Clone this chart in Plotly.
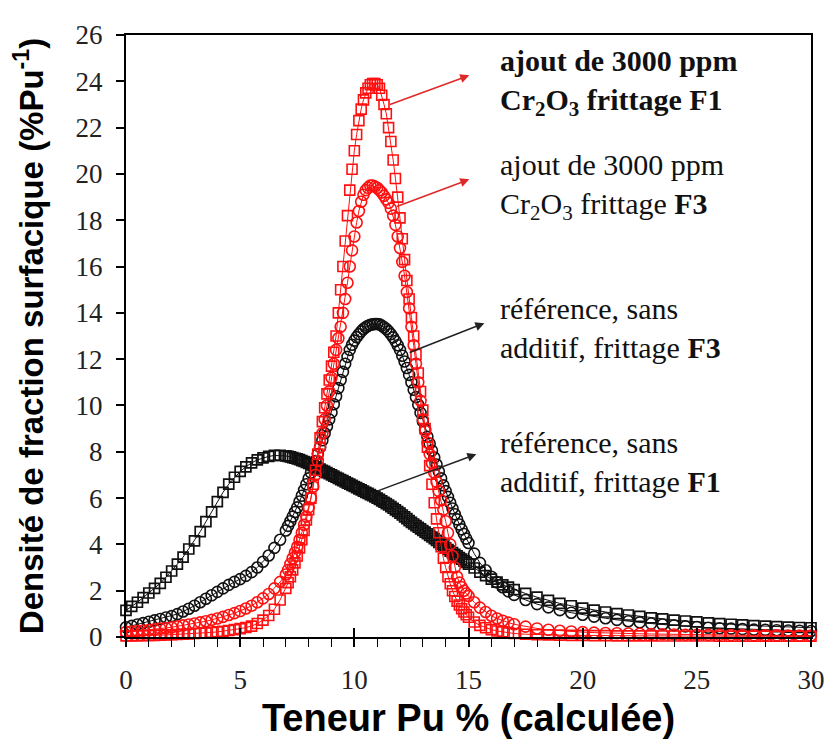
import plotly.graph_objects as go

# Teneur Pu (%) - shared abscissa of the four curves
x_pu = [0, 0.25, 0.5, 0.75, 1, 1.25, 1.5, 1.75, 2, 2.25, 2.5, 2.75, 3, 3.25,
        3.5, 3.75, 4, 4.25, 4.5, 4.75, 5, 5.25, 5.5, 5.75, 6, 6.25, 6.5, 6.75,
        7.0, 7.1, 7.2, 7.3, 7.4, 7.5, 7.6, 7.7, 7.8, 7.9,
        8.0, 8.1, 8.2, 8.3, 8.4, 8.5, 8.6, 8.7, 8.8, 8.9,
        9.0, 9.1, 9.2, 9.3, 9.4, 9.5, 9.6, 9.7, 9.8, 9.9,
        10.0, 10.1, 10.2, 10.3, 10.4, 10.5, 10.6, 10.7, 10.8, 10.9,
        11.0, 11.1, 11.2, 11.3, 11.4, 11.5, 11.6, 11.7, 11.8, 11.9,
        12.0, 12.1, 12.2, 12.3, 12.4, 12.5, 12.6, 12.7, 12.8, 12.9,
        13.0, 13.1, 13.2, 13.3, 13.4, 13.5, 13.6, 13.7, 13.8, 13.9,
        14.0, 14.1, 14.2, 14.3, 14.4, 14.5, 14.6, 14.7, 14.8, 14.9,
        15.0,
        15.25, 15.5, 15.75, 16, 16.25, 16.5, 16.75, 17,
        17.5, 18, 18.5, 19, 19.5, 20, 20.5, 21, 21.5, 22, 22.5, 23, 23.5,
        24, 24.5, 25, 25.5, 26, 26.5, 27, 27.5, 28, 28.5, 29, 29.5, 30]

# ajout de 3000 ppm Cr2O3, frittage F1 (carres rouges)
dens_cr_f1 = [0.05, 0.05, 0.06, 0.06, 0.07, 0.07, 0.08, 0.09, 0.10, 0.11, 0.12, 0.13, 0.15, 0.16,
              0.18, 0.20, 0.22, 0.25, 0.28, 0.32, 0.36, 0.41, 0.47, 0.58, 0.73, 0.93, 1.20, 1.60,
              2.10, 2.35, 2.60, 2.90, 3.20, 3.50, 3.85, 4.20, 4.60, 5.05,
              5.50, 6.00, 6.60, 7.20, 7.90, 8.60, 9.30, 9.90, 10.50, 11.10,
              11.70, 12.30, 13.00, 14.00, 15.00, 16.00, 17.10, 18.20, 19.30, 20.20,
              21.00, 21.70, 22.30, 22.80, 23.20, 23.50, 23.70, 23.85, 23.90, 23.90,
              23.85, 23.70, 23.40, 23.00, 22.60, 22.00, 21.40, 20.60, 19.80, 19.00,
              18.10, 17.20, 16.30, 15.40, 14.60, 13.80, 13.00, 12.20, 11.40, 10.60,
              9.80, 9.00, 8.20, 7.40, 6.60, 5.80, 5.10, 4.50, 3.90, 3.40,
              3.00, 2.60, 2.30, 2.00, 1.75, 1.55, 1.38, 1.22, 1.08, 0.96,
              0.85,
              0.65, 0.50, 0.40, 0.32, 0.26, 0.22, 0.18, 0.15,
              0.12, 0.10, 0.09, 0.08, 0.07, 0.07, 0.06, 0.06, 0.05, 0.05, 0.05, 0.05, 0.04,
              0.04, 0.04, 0.04, 0.04, 0.03, 0.03, 0.03, 0.03, 0.03, 0.03, 0.03, 0.03, 0.03]

# ajout de 3000 ppm Cr2O3, frittage F3 (cercles rouges)
dens_cr_f3 = [0.22, 0.24, 0.26, 0.28, 0.30, 0.33, 0.36, 0.39, 0.42, 0.46, 0.50, 0.54, 0.58, 0.63,
              0.68, 0.74, 0.80, 0.87, 0.95, 1.03, 1.12, 1.23, 1.35, 1.50, 1.67, 1.86, 2.10, 2.38,
              2.70, 2.90, 3.15, 3.40, 3.65, 3.90, 4.20, 4.50, 4.85, 5.20,
              5.60, 6.00, 6.50, 7.00, 7.60, 8.20, 8.80, 9.40, 10.00, 10.60,
              11.20, 11.80, 12.40, 12.90, 13.40, 14.00, 14.60, 15.30, 16.00, 16.70,
              17.30, 17.90, 18.40, 18.80, 19.10, 19.30, 19.40, 19.50, 19.50, 19.45,
              19.40, 19.30, 19.20, 19.05, 18.90, 18.75, 18.50, 18.20, 17.80, 17.30,
              16.80, 16.20, 15.60, 14.90, 14.20, 13.40, 12.60, 11.80, 11.00, 10.20,
              9.40, 8.90, 8.40, 7.90, 7.50, 7.10, 6.70, 6.30, 5.90, 5.50,
              5.00, 4.50, 4.00, 3.50, 3.00, 2.60, 2.35, 2.15, 2.00, 1.88,
              1.77,
              1.50, 1.27, 1.08, 0.92, 0.80, 0.70, 0.62, 0.55,
              0.45, 0.37, 0.31, 0.27, 0.24, 0.21, 0.19, 0.17, 0.16, 0.15, 0.14, 0.13, 0.12,
              0.11, 0.10, 0.10, 0.09, 0.09, 0.08, 0.08, 0.07, 0.07, 0.07, 0.06, 0.06, 0.06]

# reference, sans additif, frittage F3 (cercles noirs)
dens_ref_f3 = [0.42, 0.48, 0.54, 0.60, 0.66, 0.72, 0.78, 0.84, 0.90, 0.99, 1.10, 1.22, 1.35, 1.50,
               1.65, 1.80, 1.95, 2.10, 2.25, 2.38, 2.50, 2.64, 2.80, 3.00, 3.25, 3.52, 3.85, 4.20,
               4.60, 4.80, 5.00, 5.20, 5.40, 5.60, 5.85, 6.10, 6.35, 6.60,
               6.85, 7.10, 7.35, 7.60, 7.90, 8.20, 8.50, 8.80, 9.10, 9.40,
               9.70, 10.05, 10.40, 10.75, 11.10, 11.45, 11.80, 12.10, 12.40, 12.62,
               12.80, 12.95, 13.08, 13.20, 13.30, 13.38, 13.44, 13.48, 13.50, 13.52,
               13.52, 13.50, 13.45, 13.38, 13.30, 13.20, 13.08, 12.94, 12.78, 12.60,
               12.40, 12.15, 11.90, 11.62, 11.32, 11.00, 10.68, 10.36, 10.03, 9.68,
               9.32, 8.97, 8.65, 8.35, 8.05, 7.75, 7.45, 7.15, 6.85, 6.55,
               6.30, 6.05, 5.80, 5.55, 5.30, 5.08, 4.86, 4.65, 4.45, 4.25,
               4.06,
               3.60, 3.20, 2.88, 2.60, 2.36, 2.15, 1.97, 1.82,
               1.60, 1.42, 1.28, 1.16, 1.05, 0.96, 0.88, 0.81, 0.74, 0.68, 0.63, 0.58, 0.54,
               0.50, 0.46, 0.43, 0.40, 0.38, 0.36, 0.34, 0.32, 0.31, 0.29, 0.28, 0.27, 0.26]

# reference, sans additif, frittage F1 (carres noirs)
dens_ref_f1 = [1.15, 1.32, 1.50, 1.70, 1.90, 2.10, 2.32, 2.58, 2.85, 3.15, 3.45, 3.80, 4.15, 4.55,
               4.98, 5.40, 5.85, 6.25, 6.60, 6.90, 7.15, 7.35, 7.52, 7.65, 7.74, 7.80, 7.84, 7.84,
               7.82, 7.80, 7.78, 7.75, 7.72, 7.69, 7.66, 7.62, 7.58, 7.54,
               7.50, 7.45, 7.40, 7.35, 7.30, 7.25, 7.20, 7.15, 7.10, 7.05,
               7.00, 6.95, 6.90, 6.85, 6.80, 6.75, 6.70, 6.65, 6.60, 6.55,
               6.50, 6.45, 6.40, 6.35, 6.30, 6.25, 6.20, 6.15, 6.10, 6.05,
               6.00, 5.94, 5.88, 5.82, 5.76, 5.70, 5.63, 5.56, 5.49, 5.42,
               5.35, 5.27, 5.19, 5.11, 5.03, 4.95, 4.88, 4.81, 4.74, 4.67,
               4.60, 4.53, 4.46, 4.39, 4.32, 4.25, 4.17, 4.09, 4.01, 3.93,
               3.85, 3.78, 3.71, 3.64, 3.57, 3.50, 3.43, 3.36, 3.29, 3.22,
               3.15,
               2.98, 2.80, 2.65, 2.50, 2.37, 2.25, 2.15, 2.05,
               1.88, 1.72, 1.58, 1.45, 1.35, 1.25, 1.16, 1.08, 1.01, 0.95, 0.89, 0.83, 0.78,
               0.73, 0.69, 0.65, 0.61, 0.58, 0.55, 0.52, 0.49, 0.47, 0.45, 0.43, 0.41, 0.40]

labels = ['<b>ajout de 3000 ppm<br>Cr<sub>2</sub>O<sub>3</sub> frittage F1</b>',
          'ajout de 3000 ppm<br>Cr<sub>2</sub>O<sub>3</sub> frittage <b>F3</b>',
          'référence, sans<br>additif, frittage <b>F3</b>',
          'référence, sans<br>additif, frittage <b>F1</b>']

RED = '#ff1010'
BLACK = '#111111'

fig = go.Figure()
# noir d'abord, rouge par dessus
fig.add_trace(go.Scatter(x=x_pu, y=dens_ref_f1, mode='lines+markers', cliponaxis=False,
                         line=dict(color=BLACK, width=1),
                         marker=dict(symbol='square-open', size=10, color=BLACK, line=dict(width=1.7))))
fig.add_trace(go.Scatter(x=x_pu, y=dens_ref_f3, mode='lines+markers', cliponaxis=False,
                         line=dict(color=BLACK, width=1),
                         marker=dict(symbol='circle-open', size=11, color=BLACK, line=dict(width=1.6))))
fig.add_trace(go.Scatter(x=x_pu, y=dens_cr_f3, mode='lines+markers', cliponaxis=False,
                         line=dict(color=RED, width=1),
                         marker=dict(symbol='circle-open', size=11, color=RED, line=dict(width=1.6))))
fig.add_trace(go.Scatter(x=x_pu, y=dens_cr_f1, mode='lines+markers', cliponaxis=False,
                         line=dict(color=RED, width=1),
                         marker=dict(symbol='square-open', size=10, color=RED, line=dict(width=1.6))))
# axe fantome pour les graduations interieures
fig.add_trace(go.Scatter(x=[], y=[], xaxis='x2', showlegend=False, hoverinfo='skip'))

# fleches : de la courbe vers le texte
arrows = [(11.56, 23.0, 15.1, 24.28, '#e02828'),
          (11.86, 18.59, 15.1, 19.79, '#e02828'),
          (12.42, 12.29, 15.76, 13.58, '#222222'),
          (11.0, 6.3, 15.41, 7.92, '#222222')]
for x0, y0, x1, y1, c in arrows:
    fig.add_annotation(x=x0, y=y0, ax=x1, ay=y1, xref='x', yref='y', axref='x', ayref='y',
                       text='', showarrow=True, arrowside='start', startarrowhead=2,
                       startarrowsize=1.2, arrowwidth=1.5, arrowcolor=c)

label_y = [23.94, 19.44, 13.36, 7.54]
for txt, ly in zip(labels, label_y):
    fig.add_annotation(x=16.28, y=ly, xref='x', yref='y', text=txt, showarrow=False,
                       xanchor='left', yanchor='middle', align='left',
                       font=dict(family='Liberation Serif', size=30, color='#111111'))

fig.update_layout(
    width=829, height=739,
    margin=dict(l=118, r=18, t=23, b=110),
    plot_bgcolor='white', paper_bgcolor='white',
    showlegend=False,
    xaxis=dict(range=[0, 30], tick0=0, dtick=5, ticks='outside', ticklen=8, tickwidth=1.5,
               tickcolor='black', minor=dict(dtick=1, ticks='outside', ticklen=8,
                                             tickwidth=1.2, tickcolor='black'),
               showline=True, linecolor='black', linewidth=2, mirror=True,
               showgrid=False, zeroline=False, ticklabelstandoff=10,
               tickfont=dict(family='Liberation Serif', size=27, color='#222222'),
               title=dict(text='Teneur Pu % (calculée)', standoff=10,
                          font=dict(family='Liberation Sans', size=38, weight='bold',
                                    color='black'))),
    xaxis2=dict(range=[0, 30], overlaying='x', anchor='y', side='bottom',
                tickvals=[5, 10, 15, 20, 25], ticks='inside', ticklen=9, tickwidth=1.5,
                tickcolor='black', showticklabels=False, showline=False,
                showgrid=False, zeroline=False),
    yaxis=dict(range=[0, 26], tick0=0, dtick=2, ticks='outside', ticklen=8, tickwidth=1.5,
               tickcolor='black', showline=True, linecolor='black', linewidth=2, mirror=True,
               showgrid=False, zeroline=False, ticklabelstandoff=8,
               tickfont=dict(family='Liberation Serif', size=27, color='#222222'),
               title=dict(text='Densité de fraction surfacique (%Pu<sup>-1</sup>)', standoff=24,
                          font=dict(family='Liberation Sans', size=33, weight='bold',
                                    color='black'))),
)

fig.write_html("out.html")
